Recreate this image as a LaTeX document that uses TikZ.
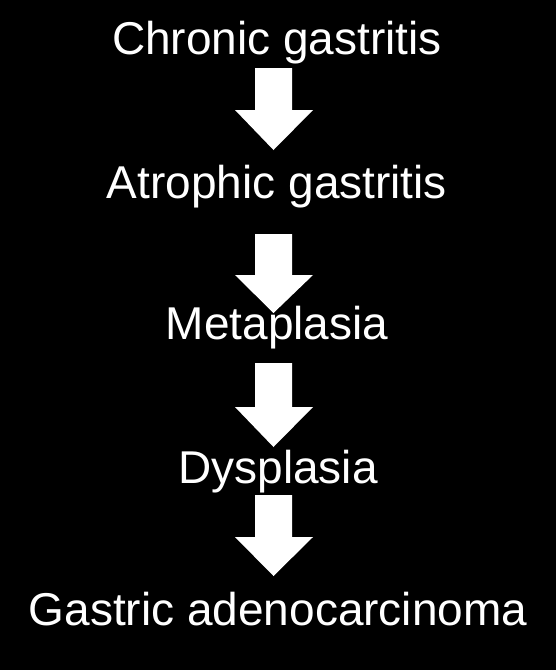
\documentclass[tikz,border=0pt]{standalone}
\usepackage{fontspec}
\setmainfont{Liberation Sans}
\newcommand\blockarr[4]{% name, top, headstart, tip
  \coordinate (#1top) at (273.5,#2);
  \coordinate (#1tip) at (273.5,#4);
  \fill[arrowfill] (255,#2) -- (292,#2) -- (292,#3) -- (313,#3) -- (#1tip) -- (235,#3) -- (255,#3) -- cycle;
}
\begin{document}
\begin{tikzpicture}[x=1pt,y=-1pt,
  stagelabel/.style={text=white,font=\fontsize{46}{55}\selectfont,inner sep=0pt,anchor=base},
  arrowfill/.style={fill=white}]
\fill[black] (0,0) rectangle (556,670);
\useasboundingbox (0,0) rectangle (556,670);
\node[stagelabel] (t1) at (277,54) {Chronic gastritis};
\node[stagelabel] (t2) at (277,198) {Atrophic gastritis};
\node[stagelabel] (t3) at (277,339) {Metaplasia};
\node[stagelabel] (t4) at (278,483) {Dysplasia};
\node[stagelabel] (t5) at (278,625) {Gastric adenocarcinoma};
\blockarr{a1}{68}{110}{150}
\blockarr{a2}{234}{275}{313}
\blockarr{a3}{363}{407}{447}
\blockarr{a4}{495}{537}{576}
\end{tikzpicture}
\end{document}
